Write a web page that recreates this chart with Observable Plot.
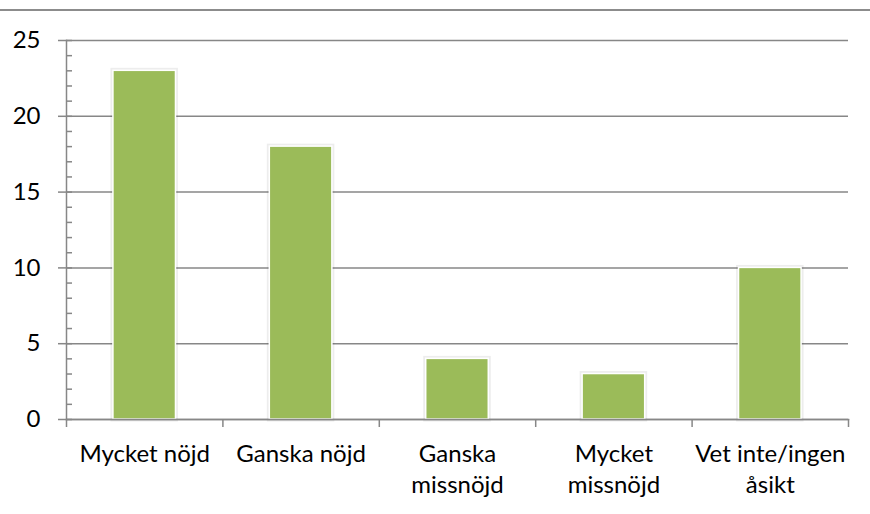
<!DOCTYPE html>
<html>
<head>
<meta charset="utf-8">
<script src="https://cdn.jsdelivr.net/npm/d3@7"></script>
<script src="https://cdn.jsdelivr.net/npm/@observablehq/plot@0.6"></script>
<style>
  html, body { margin: 0; padding: 0; background: #fff; }
  #wrap { position: relative; width: 870px; height: 514px; overflow: hidden; }
  #topline { position: absolute; left: 0; top: 9px; width: 870px; height: 0; border-top: 2px solid #8c8c8c; }
  #chart { position: absolute; left: 0; top: 0; }
</style>
</head>
<body>
<div id="wrap">
  <div id="topline"></div>
  <div id="chart"></div>
</div>
<script>
const categories = ["Mycket nöjd", "Ganska nöjd", "Ganska missnöjd", "Mycket missnöjd", "Vet inte/ingen åsikt"];
const tickLabels = ["Mycket nöjd", "Ganska nöjd", "Ganska\nmissnöjd", "Mycket\nmissnöjd", "Vet inte/ingen\nåsikt"];
const values = [23, 18, 4, 3, 10];
const yTicks = [0, 5, 10, 15, 20, 25];

const data = categories.map((c, i) => ({category: c, i, value: values[i]}));
const minorTicks = d3.range(0, 26);
const boundaries = d3.range(0, categories.length + 1);
const centers = categories.map((c, i) => i + 0.5);

const green = "#9bbb59";
const gray = "#878787";
const font = "Lato, 'Open Sans', sans-serif";

const chart = Plot.plot({
  width: 870,
  height: 514,
  marginLeft: 66,
  marginRight: 22,
  marginTop: 40,
  marginBottom: 95,
  style: {fontFamily: font, fontSize: "24px", color: "#000", background: "transparent"},
  x: {type: "linear", domain: [0, categories.length]},
  y: {domain: [0, 25]},
  marks: [
    Plot.gridY(yTicks, {stroke: gray, strokeOpacity: 1, strokeWidth: 1.5}),
    // bar shadows
    Plot.rectY(data, {x1: d => d.i + 0.3, x2: d => d.i + 0.7, y: "value", fill: "none", stroke: "#000", strokeOpacity: 0.07, strokeWidth: 5}),
    Plot.rectY(data, {x1: d => d.i + 0.3, x2: d => d.i + 0.7, y: "value", fill: green, stroke: "#fff", strokeWidth: 1.5}),
    Plot.frame({anchor: "left", stroke: gray, strokeWidth: 1.5}),
    Plot.frame({anchor: "bottom", stroke: gray, strokeWidth: 1.5}),
    Plot.axisY(yTicks, {anchor: "left", tickSize: 8, tickPadding: 18, stroke: gray, strokeWidth: 1.5, fontSize: 24, fill: "#000", label: null}),
    Plot.axisY(minorTicks, {anchor: "left", tickSize: -6, tickFormat: () => "", stroke: gray, strokeWidth: 1.5, label: null}),
    Plot.axisX(boundaries, {anchor: "bottom", tickSize: 8, tickFormat: () => "", stroke: gray, strokeWidth: 1.5, label: null}),
    Plot.axisX(centers, {anchor: "bottom", tickSize: 0, tickPadding: 20, tickFormat: d => tickLabels[Math.round(d - 0.5)], fontSize: 24, fill: "#000", lineHeight: 1.3, label: null})
  ]
});
document.getElementById("chart").appendChild(chart);
</script>
</body>
</html>
